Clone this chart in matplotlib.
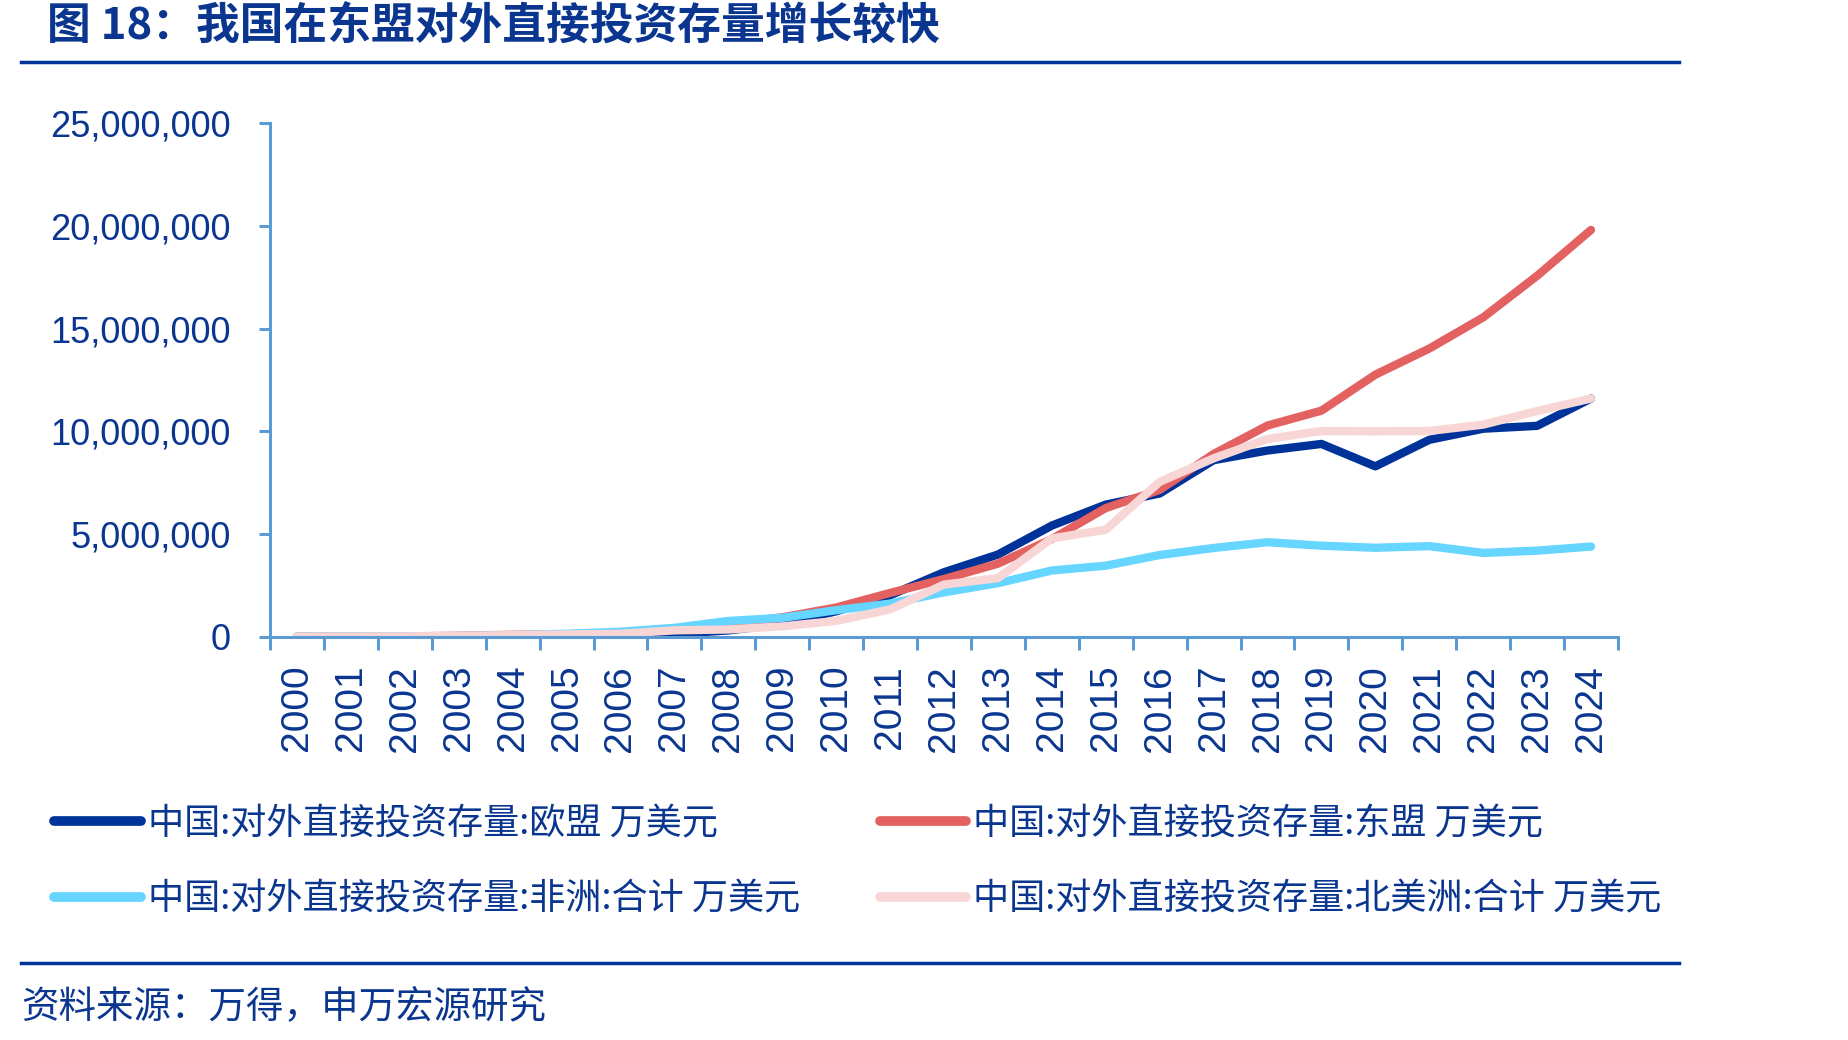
"""我国在东盟对外直接投资存量增长较快 - 折线图复刻。"""

import matplotlib

matplotlib.use("Agg")
import matplotlib.pyplot as plt
from matplotlib.lines import Line2D
from matplotlib.ticker import FuncFormatter

plt.rcParams["font.family"] = ["Noto Sans CJK SC", "DejaVu Sans"]

# 数据（万美元）
years = [str(y) for y in range(2000, 2025)]
eu = [0, 0, 0, 0, 0, 10000, 60000, 150000, 320000, 630000,
      1250000, 2030000, 3150000, 4010000, 5420000, 6440000, 6980000,
      8600000, 9070000, 9390000, 8300000, 9590000, 10130000, 10270000, 11600000]
asean = [20000, 25000, 30000, 59000, 108000, 126000, 176000, 395000, 650000, 957000,
         1435000, 2143000, 2821000, 3567000, 4763000, 6272000, 7155000,
         8902000, 10286000, 11009000, 12760000, 14029000, 15546000, 17568000, 19800000]
africa = [20000, 25000, 30000, 49000, 90000, 160000, 256000, 446000, 780000, 933000,
          1304000, 1624000, 2173000, 2619000, 3235000, 3469000, 3987000,
          4330000, 4610000, 4440000, 4340000, 4419000, 4090000, 4200000, 4400000]
north_america = [20000, 25000, 30000, 55000, 91000, 126000, 158000, 323000, 366000, 518000,
                 782000, 1343000, 2550000, 2861000, 4795000, 5218000, 7548000,
                 8690000, 9635000, 10020000, 10002000, 10020000, 10330000, 10990000, 11600000]

series_labels = [
    "中国:对外直接投资存量:欧盟 万美元",
    "中国:对外直接投资存量:东盟 万美元",
    "中国:对外直接投资存量:非洲:合计 万美元",
    "中国:对外直接投资存量:北美洲:合计 万美元",
]
colors = ["#003399", "#E46161", "#66D5FF", "#F8D6D6"]

DARK_BLUE = "#0A3690"
AXIS_BLUE = "#5B9BD5"

fig = plt.figure(figsize=(18.49, 10.40), dpi=100)
ax = fig.add_axes([270 / 1849, 1 - 637 / 1040, 1348 / 1849, 514 / 1040])

x = list(range(len(years)))
for values, color in zip([eu, asean, africa, north_america], colors):
    ax.plot(x, values, color=color, lw=6, solid_capstyle="round",
            solid_joinstyle="round")

ax.set_xlim(-0.5, len(years) - 0.5)
ax.set_ylim(0, 25_000_000)
ax.set_yticks(range(0, 25_000_001, 5_000_000))
ax.yaxis.set_major_formatter(FuncFormatter(lambda v, _: f"{int(v):,}"))
ax.set_xticks([i - 0.5 for i in range(len(years) + 1)])
ax.set_xticklabels([])
ax.set_xticks(x, minor=True)
ax.set_xticklabels(years, minor=True, rotation=90)

for side in ["top", "right"]:
    ax.spines[side].set_visible(False)
for side in ["left", "bottom"]:
    ax.spines[side].set_color(AXIS_BLUE)
    ax.spines[side].set_linewidth(2.2)

ax.tick_params(axis="y", which="major", direction="out", length=8, width=2.2,
               color=AXIS_BLUE, labelcolor=DARK_BLUE, labelsize=26, pad=20)
ax.tick_params(axis="x", which="major", direction="out", length=9, width=2.2,
               color=AXIS_BLUE)
ax.tick_params(axis="x", which="minor", length=0, labelcolor=DARK_BLUE,
               labelsize=28, pad=20)
for lab in ax.get_yticklabels() + ax.get_xticklabels(minor=True):
    lab.set_family(["Liberation Sans", "DejaVu Sans"])

# 图例（按行排列：两列，先填第一列）
handles = [Line2D([], [], color=c, lw=7, solid_capstyle="round") for c in colors]
order = [0, 2, 1, 3]
fig.legend([handles[i] for i in order], [series_labels[i] for i in order],
           loc="upper left", bbox_to_anchor=(54 / 1849, 1 - 806 / 1040),
           ncol=2, frameon=False, fontsize=26, handlelength=2.4,
           handletextpad=0.2, columnspacing=2.2, labelspacing=1.1,
           labelcolor=DARK_BLUE, borderaxespad=0, borderpad=0)

# 标题与来源
fig.text(47 / 1849, 1 - 27 / 1040, "图 18：我国在东盟对外直接投资存量增长较快",
         fontsize=31.5, fontweight="bold", color=DARK_BLUE, va="center", ha="left")
fig.add_artist(Line2D([21 / 1849, 1679 / 1849], [1 - 62 / 1040, 1 - 62 / 1040],
                      color="#003399", lw=2.5))
fig.add_artist(Line2D([21 / 1849, 1679 / 1849], [1 - 963 / 1040, 1 - 963 / 1040],
                      color="#003399", lw=2.5))
fig.text(21 / 1849, 1 - 1008 / 1040, "资料来源：万得，申万宏源研究",
         fontsize=27, color=DARK_BLUE, va="center", ha="left")

fig.savefig("out.png", dpi=100)
